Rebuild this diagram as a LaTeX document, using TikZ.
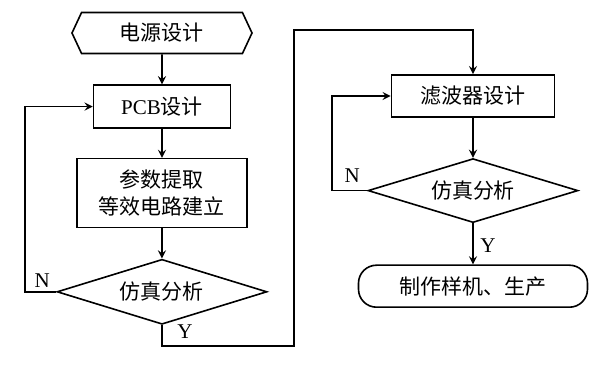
\documentclass[tikz,border=0pt]{standalone}
\usepackage{fontspec}
\setmainfont{Liberation Serif}
\newfontfamily\cjk{Noto Sans CJK SC}
\usetikzlibrary{shapes.geometric, shapes.symbols, arrows, positioning, calc}

\begin{document}
\begin{tikzpicture}[
  node distance=15pt,
  box/.style={rectangle, draw=black, line width=0.8pt, align=center,
              inner sep=0pt, font=\cjk\fontsize{10.5}{13.5}\selectfont},
  hexa/.style={signal, signal to=west and east, signal pointer angle=130,
               draw=black, line width=0.8pt, inner sep=0pt,
               minimum width=90pt, minimum height=20.5pt,
               font=\cjk\fontsize{10.5}{13.5}\selectfont},
  decide/.style={diamond, aspect=3.2, draw=black, line width=0.8pt, inner sep=0pt,
                 minimum width=105pt, minimum height=32.5pt,
                 font=\cjk\fontsize{10.5}{13.5}\selectfont},
  term/.style={rectangle, rounded corners=9pt, draw=black, line width=0.8pt,
               inner sep=0pt, minimum width=114.5pt, minimum height=21pt,
               font=\cjk\fontsize{10.5}{13.5}\selectfont},
  lab/.style={inner sep=0pt, font=\rmfamily\fontsize{10.5}{12}\selectfont},
  arrow/.style={->, >=stealth, line width=0.8pt}
]
\useasboundingbox (-81pt,16.5pt) rectangle (216.5pt,-168pt);

% Left column
\node[hexa] (power) at (0,0) {电源设计};
\node[box, below=15pt of power, minimum width=68.5pt, minimum height=21.5pt] (pcb)
      {{\rmfamily PCB}设计};
\node[box, below=14.5pt of pcb, minimum width=85pt, minimum height=34.5pt] (param)
      {参数提取\\等效电路建立};
\node[decide, below=15pt of param] (sim1) {仿真分析};

% Right column
\node[box, minimum width=81.5pt, minimum height=21pt] (filt)
      at (155.5pt,-31.5pt) {滤波器设计};
\node[decide, below=20pt of filt, minimum height=32pt] (sim2) {仿真分析};
\node[term, below=20.5pt of sim2] (proto) {制作样机、生产};

% Jump point
\coordinate (jmp) at ($(sim1.east |- filt.north)+(13pt,22pt)$);

% Labels
\node[lab] (n1) at ($(sim1.west)+(-7pt,5.5pt)$) {N};
\node[lab] (y1) at ($(sim1.south)+(11.5pt,-3.5pt)$) {Y};
\node[lab] (n2) at ($(sim2.west)+(-7.5pt,7.5pt)$) {N};
\node[lab] (y2) at ($(sim2.south)+(7.5pt,-11pt)$) {Y};

% Arrows
\draw[arrow] (power) -- (pcb);
\draw[arrow] (pcb) -- (param);
\draw[arrow] (param) -- (sim1);
\draw[arrow] (sim1.west) -- ++(-15.5pt,0) |- (pcb.west);
\draw[arrow] (sim1.south) -- ++(0,-10.5pt) -| (jmp) -| (filt.north);
\draw[arrow] (filt) -- (sim2);
\draw[arrow] (sim2.west) -- ++(-17.5pt,0) |- (filt.west);
\draw[arrow] (sim2) -- (proto);
\end{tikzpicture}
\end{document}
